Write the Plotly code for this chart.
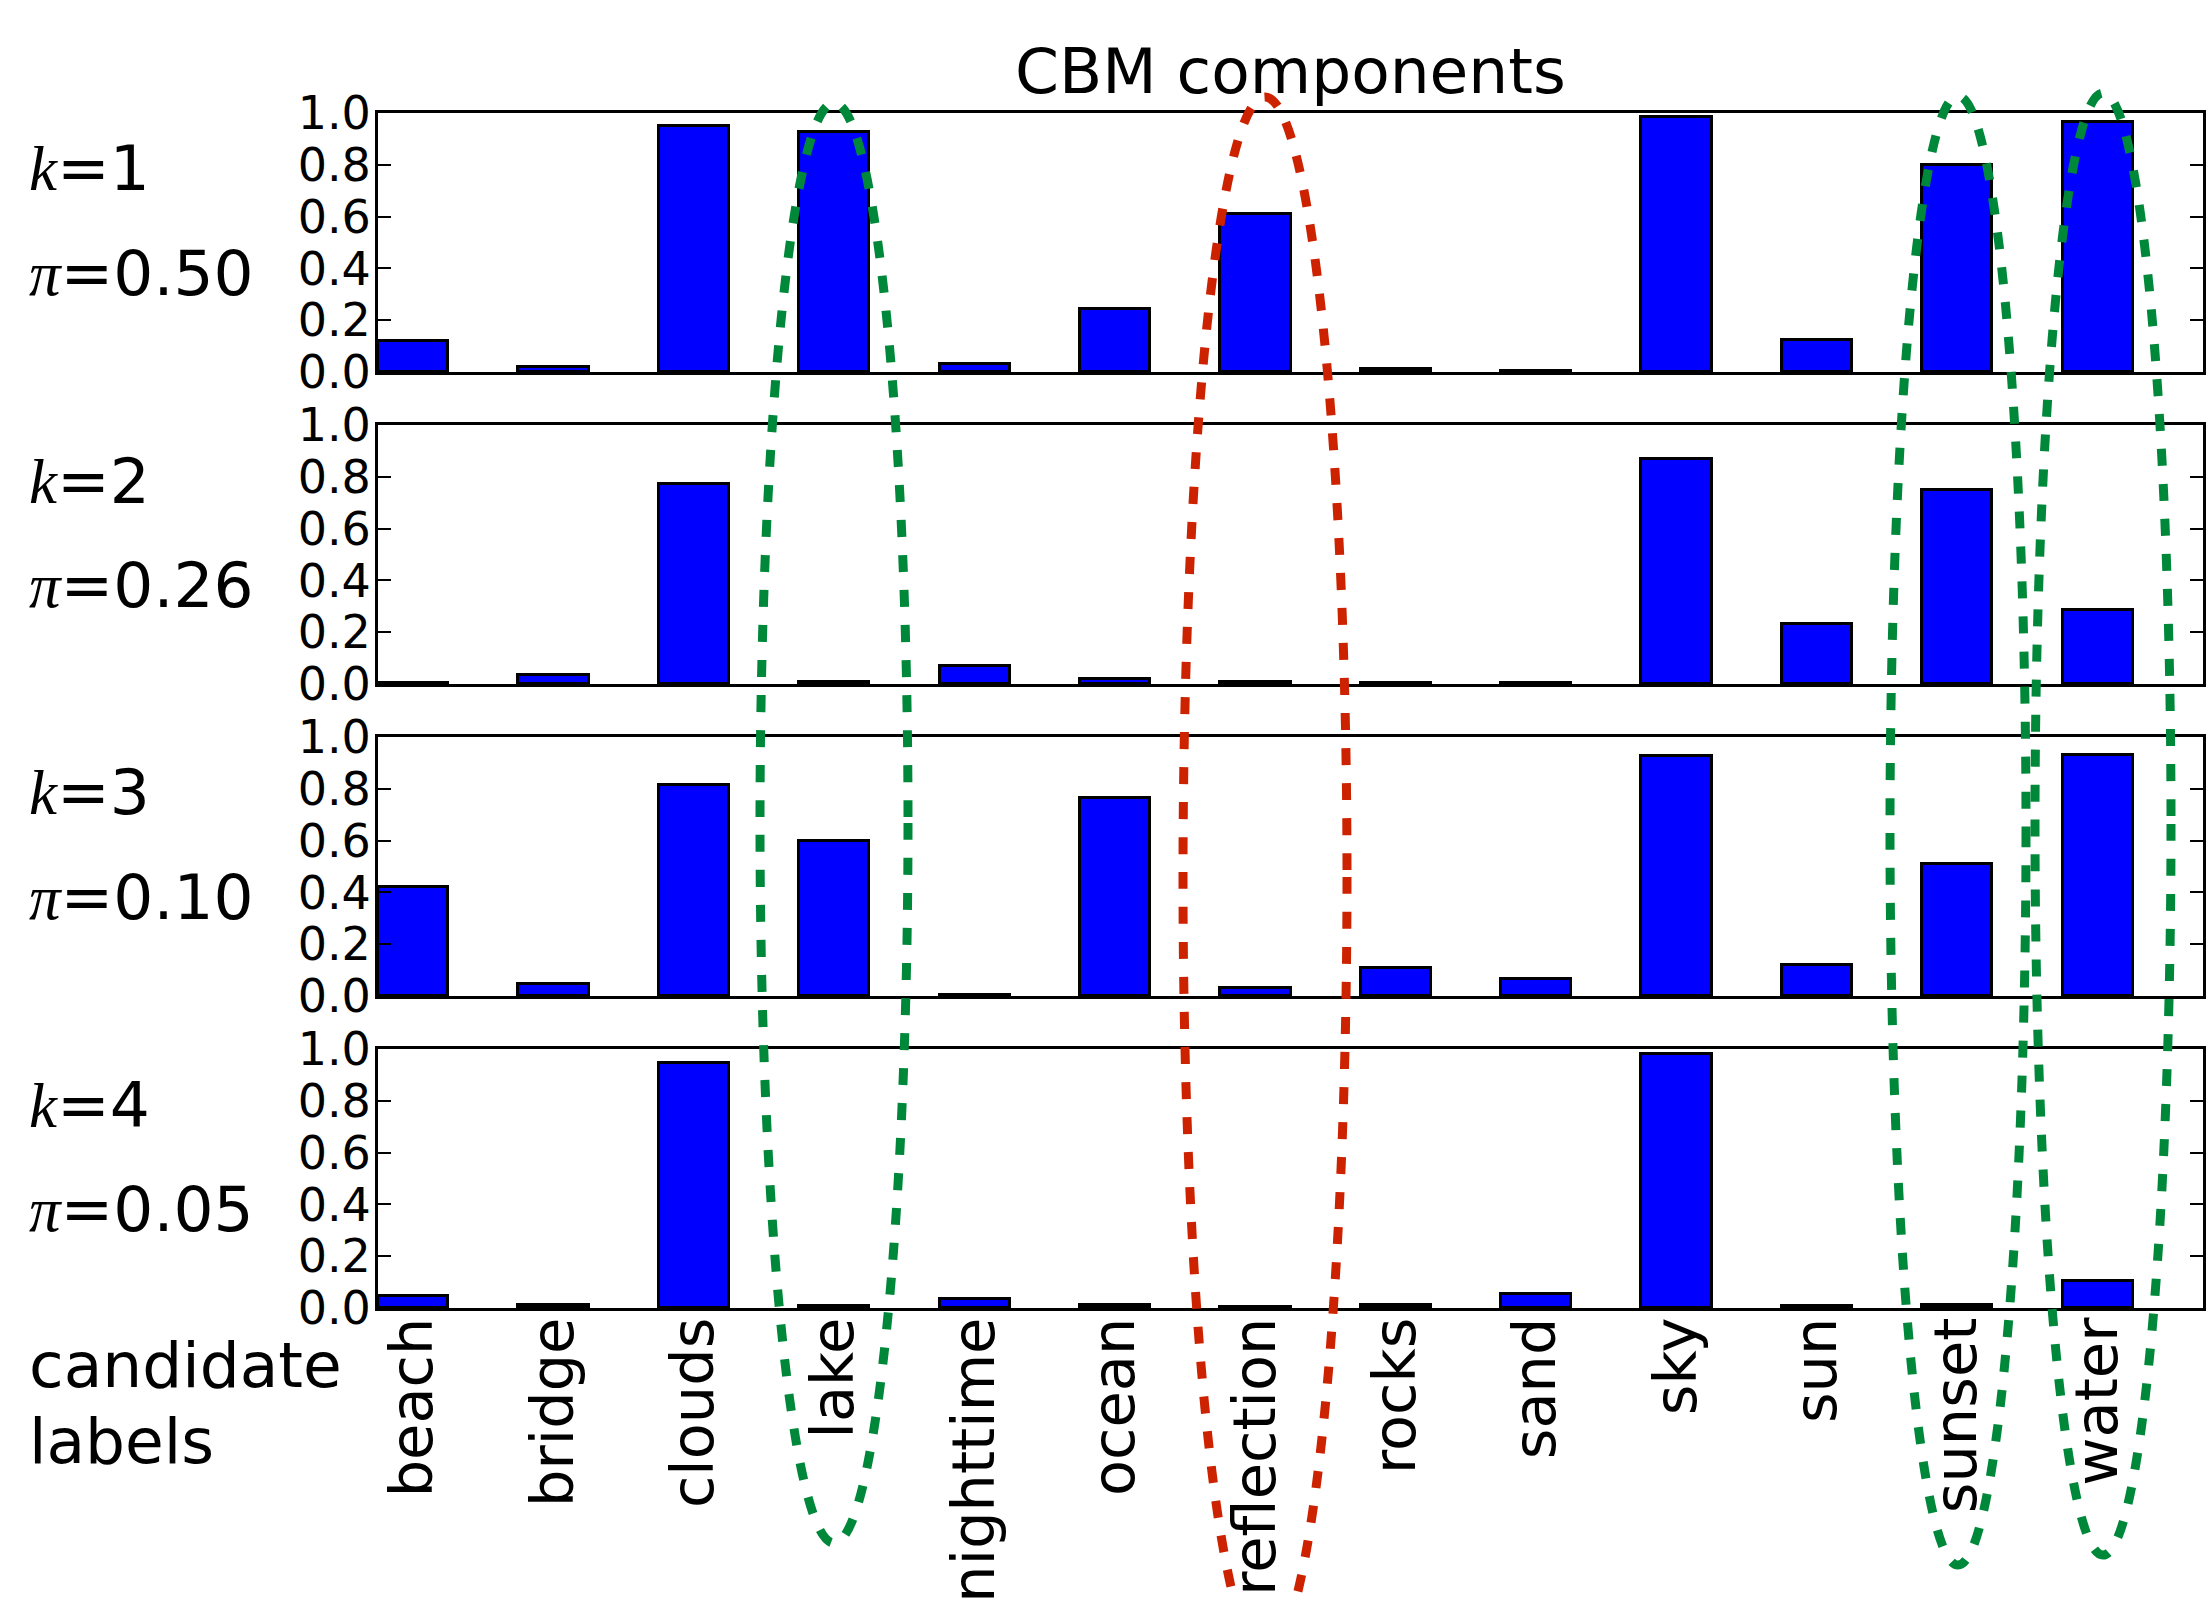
import plotly.graph_objects as go

# ---------------- data ----------------
categories = ["beach", "bridge", "clouds", "lake", "nighttime", "ocean",
              "reflection", "rocks", "sand", "sky", "sun", "sunset", "water"]
comp_k1 = [0.12, 0.02, 0.95, 0.925, 0.03, 0.245, 0.61, 0.01, 0.005, 0.985, 0.125, 0.80, 0.965]
comp_k2 = [0.004, 0.034, 0.772, 0.006, 0.07, 0.02, 0.008, 0.003, 0.002, 0.87, 0.23, 0.75, 0.285]
comp_k3 = [0.42, 0.045, 0.815, 0.60, 0.002, 0.765, 0.03, 0.11, 0.065, 0.925, 0.12, 0.51, 0.93]
comp_k4 = [0.047, 0.013, 0.947, 0.009, 0.035, 0.01, 0.004, 0.013, 0.055, 0.98, 0.008, 0.012, 0.105]
components = [comp_k1, comp_k2, comp_k3, comp_k4]
k_labels = ["1", "2", "3", "4"]
pi_labels = ["0.50", "0.26", "0.10", "0.05"]
y_ticks = [0.0, 0.2, 0.4, 0.6, 0.8, 1.0]
title_text = "CBM components"
xlabel_lines = ["candidate", "labels"]

# ---------------- geometry (pixels) ----------------
W, H = 2211, 1599
ML, MR, MT, MB = 378, 8, 113, 291
PW = W - ML - MR
PH = H - MT - MB
panel_top = [113, 425, 737, 1049]
panel_h = 259

def py2paper(py):
    return (H - MB - py) / PH

def px2paper(px):
    return (px - ML) / PW

FONT = "DejaVu Sans"
MATHFONT = "Liberation Serif"
BIG = 63
n = len(categories)

fig = go.Figure()
for i, vals in enumerate(components):
    ax = "" if i == 0 else str(i + 1)
    fig.add_trace(go.Bar(
        x=[j + 0.25 for j in range(n)], y=vals, width=0.5,
        marker=dict(color="#0000ff", line=dict(color="black", width=3)),
        xaxis="x" + ax, yaxis="y" + ax, showlegend=False,
    ))
    top = panel_top[i]
    dom = [py2paper(top + panel_h), py2paper(top)]
    fig.layout["xaxis" + ax] = dict(
        domain=[0, 1], range=[0, n], anchor="y" + ax, automargin=False,
        showline=True, linecolor="black", linewidth=3, mirror=True,
        ticks="", showgrid=False, zeroline=False,
        tickvals=[j + 0.25 for j in range(n)], ticktext=categories,
        showticklabels=(i == 3), tickangle=-90, ticklabelstandoff=-17,
        tickfont=dict(family=FONT, size=59, color="black"),
    )
    fig.layout["yaxis" + ax] = dict(
        domain=dom, range=[0, 1], anchor="x" + ax, automargin=False,
        showline=True, linecolor="black", linewidth=3, mirror="ticks",
        ticks="inside", ticklen=13, tickwidth=2, tickcolor="black",
        tickvals=y_ticks, ticktext=["%.1f" % v for v in y_ticks],
        ticklabelstandoff=-5,
        showgrid=False, zeroline=False,
        tickfont=dict(family=FONT, size=46, color="black"),
    )
    # side labels
    fig.add_annotation(
        xref="paper", yref="paper", x=px2paper(27), y=py2paper(top + 56),
        xanchor="left", yanchor="middle", showarrow=False,
        text="<span style='font-family:%s'><i>k</i></span>=%s" % (MATHFONT, k_labels[i]),
        font=dict(family=FONT, size=BIG, color="black"),
    )
    fig.add_annotation(
        xref="paper", yref="paper", x=px2paper(27), y=py2paper(top + 160),
        xanchor="left", yanchor="middle", showarrow=False,
        text="<span style='font-family:%s'><i>π</i></span>=%s" % (MATHFONT, pi_labels[i]),
        font=dict(family=FONT, size=BIG, color="black"),
    )

fig.add_annotation(
    xref="paper", yref="paper", x=0.5, y=py2paper(71),
    xanchor="center", yanchor="middle", showarrow=False,
    text=title_text, font=dict(family=FONT, size=BIG, color="black"),
)
for txt, cy in zip(xlabel_lines, [1365, 1441]):
    fig.add_annotation(
        xref="paper", yref="paper", x=px2paper(27), y=py2paper(cy),
        xanchor="left", yanchor="middle", showarrow=False,
        text=txt, font=dict(family=FONT, size=BIG, color="black"),
    )

# dashed highlight ellipses (decoration): center x px, half-width px, top px, bottom px
ellipses = [
    (834, 74, 103, 1543, "#00883a"),
    (1265, 82, 97, 1657, "#cc2200"),
    (1958, 68, 96, 1565, "#00883a"),
    (2103, 68, 93, 1555, "#00883a"),
]
for cx, a, t, b, col in ellipses:
    fig.add_shape(
        type="circle", xref="paper", yref="paper",
        x0=px2paper(cx - a), x1=px2paper(cx + a),
        y0=py2paper(b), y1=py2paper(t),
        line=dict(color=col, width=9, dash="17px,18px"),
        fillcolor="rgba(0,0,0,0)", layer="above",
    )

fig.update_layout(
    width=W, height=H,
    margin=dict(l=ML, r=MR, t=MT, b=MB, pad=0, autoexpand=False),
    paper_bgcolor="white", plot_bgcolor="white",
    bargap=0, showlegend=False,
)

fig.write_html("out.html", config={"displayModeBar": False},
               post_script="document.body.style.margin='0';")
